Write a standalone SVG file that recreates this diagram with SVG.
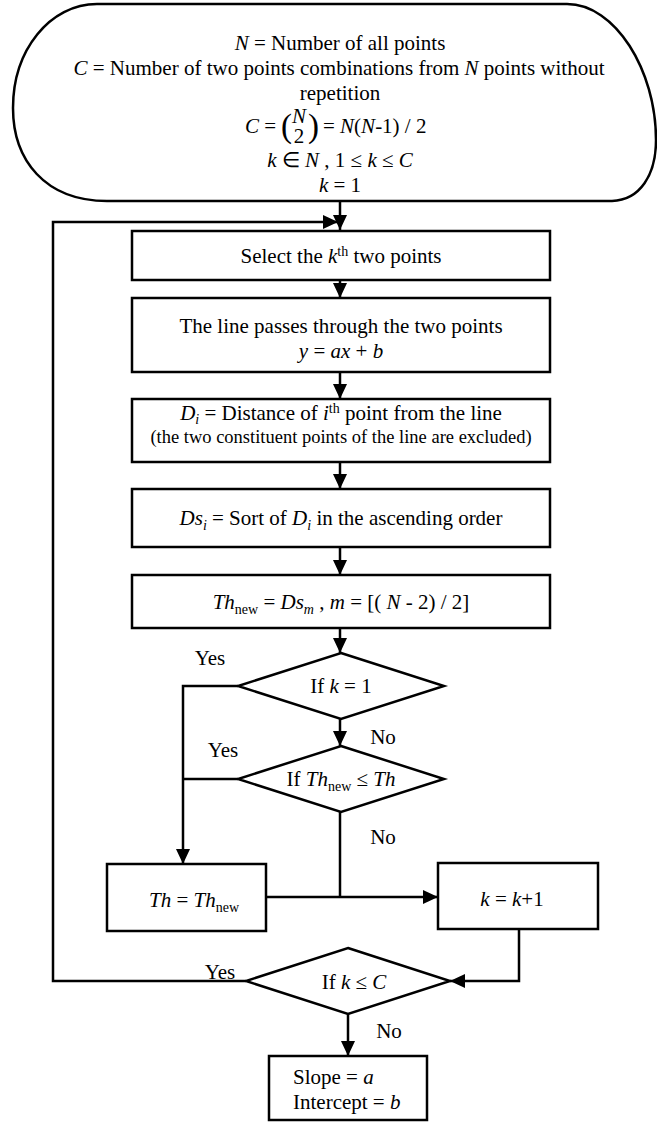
<svg xmlns="http://www.w3.org/2000/svg" width="657" height="1122" viewBox="0 0 657 1122" font-family="'Liberation Serif', 'Times New Roman', serif">
<style>
text{font-family:'Liberation Serif','Times New Roman',serif;font-size:21px;fill:#000}
.m{text-anchor:middle}
.i{font-style:italic}
.s{font-size:14px}
.sm{font-size:18.5px}
.shape{fill:#fff;stroke:#000;stroke-width:2.5}
.ln{fill:none;stroke:#000;stroke-width:2.5}
</style>
<defs>
<marker id="ah" markerUnits="userSpaceOnUse" markerWidth="16" markerHeight="14" refX="15" refY="7" orient="auto">
<path d="M0,0 L15,7 L0,14 Z" fill="#000"/>
</marker>
</defs>
<g id="connectors">
<path class="ln" d="M340,201 V230" marker-end="url(#ah)"/>
<path class="ln" d="M246,981 H53 V222 H338" marker-end="url(#ah)"/>
<path class="ln" d="M340,280 V298" marker-end="url(#ah)"/>
<path class="ln" d="M340,372 V399" marker-end="url(#ah)"/>
<path class="ln" d="M340,462 V489" marker-end="url(#ah)"/>
<path class="ln" d="M340,547 V575" marker-end="url(#ah)"/>
<path class="ln" d="M340,628 V653" marker-end="url(#ah)"/>
<path class="ln" d="M340,719 V746" marker-end="url(#ah)"/>
<path class="ln" d="M238,686 H183 V864" marker-end="url(#ah)"/>
<path class="ln" d="M238,779 H183"/>
<path class="ln" d="M340,812 V897"/>
<path class="ln" d="M266,897 H438" marker-end="url(#ah)"/>
<path class="ln" d="M519,929 V981 H450" marker-end="url(#ah)"/>
<path class="ln" d="M348,1014 V1056" marker-end="url(#ah)"/>
<text class="m" x="210" y="665">Yes</text>
<text class="m" x="223" y="757">Yes</text>
<text class="m" x="383" y="744">No</text>
<text class="m" x="383" y="844">No</text>
<text class="m" x="220" y="979">Yes</text>
<text class="m" x="389" y="1038">No</text>
</g>
<g id="start">
<path class="shape" d="M97,4 L567,4 C615,4 656,70 656,140 C656,175 640,200 612,201 L107,201 C45,201 13,160 13,108 C13,50 50,4 97,4 Z"/>
<text class="m" x="340" y="50"><tspan class="i">N</tspan> = Number of all points</text>
<text class="m" x="339" y="75"><tspan class="i">C</tspan> = Number of two points combinations from <tspan class="i">N</tspan> points without</text>
<text class="m" x="340" y="100">repetition</text>
<text x="245" y="133"><tspan class="i">C</tspan> =</text>
<text x="281" y="137" style="font-size:33px">(</text>
<text class="m i" x="299" y="123">N</text>
<text class="m" x="299" y="143">2</text>
<text x="308" y="137" style="font-size:33px">)</text>
<text x="323" y="133">= <tspan class="i">N</tspan>(<tspan class="i">N</tspan>-1) / 2</text>
<text class="m" x="340" y="167"><tspan class="i">k</tspan> ∈ <tspan class="i">N</tspan> , 1 ≤ <tspan class="i">k</tspan> ≤ <tspan class="i">C</tspan></text>
<text class="m" x="340" y="192"><tspan class="i">k</tspan> = 1</text>
</g>
<g id="select">
<rect class="shape" x="132" y="231" width="418" height="49"/>
<text class="m" x="341" y="263">Select the <tspan class="i">k</tspan><tspan class="s" dy="-7">th</tspan><tspan dy="7"> two points</tspan></text>
</g>
<g id="line">
<rect class="shape" x="132" y="298" width="418" height="74"/>
<text class="m" x="341" y="333">The line passes through the two points</text>
<text class="m" x="341" y="358"><tspan class="i">y</tspan> = <tspan class="i">ax</tspan> + <tspan class="i">b</tspan></text>
</g>
<g id="distance">
<rect class="shape" x="132" y="399" width="418" height="63"/>
<text class="m" x="341" y="420"><tspan class="i">D</tspan><tspan class="s i" dy="4">i</tspan><tspan dy="-4"> = Distance of </tspan><tspan class="i">i</tspan><tspan class="s" dy="-7">th</tspan><tspan dy="7"> point from the line</tspan></text>
<text class="m sm" x="341" y="443">(the two constituent points of the line are excluded)</text>
</g>
<g id="sort">
<rect class="shape" x="132" y="489" width="418" height="58"/>
<text class="m" x="341" y="525"><tspan class="i">Ds</tspan><tspan class="s i" dy="5">i</tspan><tspan dy="-5"> = Sort of </tspan><tspan class="i">D</tspan><tspan class="s i" dy="5">i</tspan><tspan dy="-5"> in the ascending order</tspan></text>
</g>
<g id="thnew">
<rect class="shape" x="132" y="575" width="418" height="53"/>
<text class="m" x="341" y="609"><tspan class="i">Th</tspan><tspan class="s" dy="5">new</tspan><tspan dy="-5"> = </tspan><tspan class="i">Ds</tspan><tspan class="s i" dy="5">m</tspan><tspan dy="-5"> , </tspan><tspan class="i">m</tspan> = [( <tspan class="i">N</tspan> - 2) / 2]</text>
</g>
<g id="ifk1">
<path class="shape" d="M341,653 L444,686 L341,719 L238,686 Z"/>
<text class="m" x="341" y="693">If <tspan class="i">k</tspan> = 1</text>
</g>
<g id="ifth">
<path class="shape" d="M341,746 L444,779 L341,812 L238,779 Z"/>
<text class="m" x="341" y="786">If <tspan class="i">Th</tspan><tspan class="s" dy="5">new</tspan><tspan dy="-5"> ≤ </tspan><tspan class="i">Th</tspan></text>
</g>
<g id="thset">
<rect class="shape" x="107" y="864" width="159" height="67"/>
<text class="m" x="194" y="907"><tspan class="i">Th</tspan> = <tspan class="i">Th</tspan><tspan class="s" dy="5">new</tspan></text>
</g>
<g id="kinc">
<rect class="shape" x="438" y="863" width="160" height="66"/>
<text class="m" x="512" y="906"><tspan class="i">k</tspan> = <tspan class="i">k</tspan>+1</text>
</g>
<g id="ifkc">
<path class="shape" d="M348,948 L450,981 L348,1014 L246,981 Z"/>
<text class="m" x="354" y="989">If <tspan class="i">k</tspan> ≤ <tspan class="i">C</tspan></text>
</g>
<g id="result">
<rect class="shape" x="269" y="1056" width="158" height="64"/>
<text x="293" y="1084">Slope = <tspan class="i">a</tspan></text>
<text x="293" y="1109">Intercept = <tspan class="i">b</tspan></text>
</g>
</svg>
